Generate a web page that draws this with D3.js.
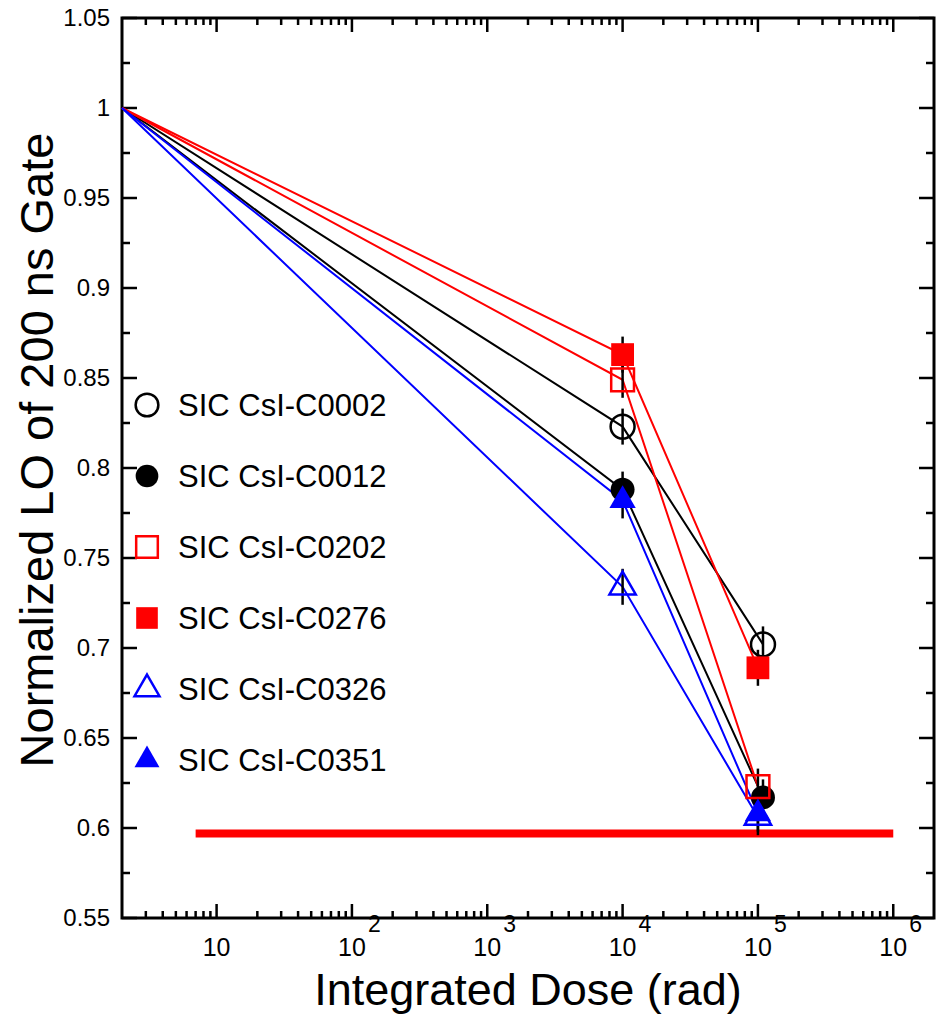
<!DOCTYPE html>
<html>
<head>
<meta charset="utf-8">
<script src="https://cdn.jsdelivr.net/npm/d3@7"></script>
<style>
  body { margin: 0; background: #fff; }
  text { font-family: "Liberation Sans", Arial, sans-serif; fill: #000; }
</style>
</head>
<body>
<div id="container"></div>
<script>
// crystal names, in legend order
var names = ["SIC CsI-C0002", "SIC CsI-C0012", "SIC CsI-C0202", "SIC CsI-C0276", "SIC CsI-C0326", "SIC CsI-C0351"];

// integrated dose (rad) per crystal
var doseC0002 = [2, 1.0e4, 1.09e5];
var doseC0012 = [2, 1.0e4, 1.09e5];
var doseC0202 = [2, 1.0e4, 1.0e5];
var doseC0276 = [2, 1.0e4, 1.0e5];
var doseC0326 = [2, 1.0e4, 1.0e5];
var doseC0351 = [2, 1.0e4, 1.0e5];

// normalized LO of 200 ns gate per crystal
var loC0002 = [1, 0.823, 0.702];
var loC0012 = [1, 0.788, 0.617];
var loC0202 = [1, 0.849, 0.623];
var loC0276 = [1, 0.863, 0.689];
var loC0326 = [1, 0.734, 0.606];
var loC0351 = [1, 0.782, 0.608];

// error bars
var errC0002 = [0, 0.01, 0.01];
var errC0012 = [0, 0.01, 0.01];
var errC0202 = [0, 0.01, 0.01];
var errC0276 = [0, 0.01, 0.01];
var errC0326 = [0, 0.01, 0.01];
var errC0351 = [0, 0.01, 0.01];

// specification limit line
var limitDose = [7, 1e6];
var limitLO = 0.597;

// axis ticks
var yMajor = [0.55, 0.6, 0.65, 0.7, 0.75, 0.8, 0.85, 0.9, 0.95, 1.0, 1.05];
var yMinor = [0.575, 0.625, 0.675, 0.725, 0.775, 0.825, 0.875, 0.925, 0.975, 1.025];
var xMajor = [10, 1e2, 1e3, 1e4, 1e5, 1e6];
var xExp = ["", "2", "3", "4", "5", "6"];

var doses = [doseC0002, doseC0012, doseC0202, doseC0276, doseC0326, doseC0351];
var los = [loC0002, loC0012, loC0202, loC0276, loC0326, loC0351];
var errs = [errC0002, errC0012, errC0202, errC0276, errC0326, errC0351];

// styling for each series
var styles = [
    { color: "#000000", shape: d3.symbolCircle, size: 450, filled: false },
    { color: "#000000", shape: d3.symbolCircle, size: 450, filled: true },
    { color: "#ff0000", shape: d3.symbolSquare, size: 520, filled: false },
    { color: "#ff0000", shape: d3.symbolSquare, size: 520, filled: true },
    { color: "#0000ff", shape: d3.symbolTriangle, size: 300, filled: false },
    { color: "#0000ff", shape: d3.symbolTriangle, size: 300, filled: true }
];

var W = 942, H = 1015;
var mLeft = 122, mRight = 934, mTop = 18, mBottom = 918;

var svg = d3.select("#container").append("svg")
    .attr("width", W)
    .attr("height", H);

var x = d3.scaleLog().domain([2, 2e6]).range([mLeft, mRight]);
var y = d3.scaleLinear().domain([0.55, 1.05]).range([mBottom, mTop]);

// minor x ticks 2..9 of each decade, inside the frame
var xMinor = [];
for (var e = 0; e <= 6; e++)
{
    for (var m = 2; m <= 9; m++)
    {
        var v = m * Math.pow(10, e);
        if (v > 2 && v < 2e6) xMinor.push(v);
    }
}

// y tick labels (ticks drawn separately)
svg.append("g").attr("transform", "translate(" + mLeft + ",0)")
    .call(d3.axisLeft(y).tickValues(yMajor).tickSize(0).tickPadding(12)
        .tickFormat(function (d) { return String(+d.toFixed(2)); }))
    .call(function (g) { g.select(".domain").remove(); })
    .selectAll("text").style("font-size", "24px");

// inward tick marks on all four sides
var ticks = svg.append("g").attr("stroke", "#000").attr("stroke-width", 2.5);

function yTicks(vals, len)
{
    ticks.selectAll(null).data(vals).enter().append("line")
        .attr("x1", mLeft).attr("x2", mLeft + len)
        .attr("y1", function (d) { return y(d); })
        .attr("y2", function (d) { return y(d); });
    ticks.selectAll(null).data(vals).enter().append("line")
        .attr("x1", mRight).attr("x2", mRight - len)
        .attr("y1", function (d) { return y(d); })
        .attr("y2", function (d) { return y(d); });
}
function xTicks(vals, len)
{
    ticks.selectAll(null).data(vals).enter().append("line")
        .attr("y1", mBottom).attr("y2", mBottom - len)
        .attr("x1", function (d) { return x(d); })
        .attr("x2", function (d) { return x(d); });
    ticks.selectAll(null).data(vals).enter().append("line")
        .attr("y1", mTop).attr("y2", mTop + len)
        .attr("x1", function (d) { return x(d); })
        .attr("x2", function (d) { return x(d); });
}
yTicks(yMajor, 15);
yTicks(yMinor, 8);
xTicks(xMajor, 14);
xTicks(xMinor, 7);

// x tick labels with superscripts
xMajor.forEach(function (d, i)
{
    svg.append("text")
        .attr("x", x(d))
        .attr("y", 956)
        .attr("text-anchor", "middle")
        .style("font-size", "25px")
        .text("10");
    if (xExp[i] !== "")
    {
        svg.append("text")
            .attr("x", x(d) + 16)
            .attr("y", 932)
            .style("font-size", "23px")
            .text(xExp[i]);
    }
});

// frame
svg.append("rect")
    .attr("x", mLeft).attr("y", mTop)
    .attr("width", mRight - mLeft).attr("height", mBottom - mTop)
    .attr("fill", "none").attr("stroke", "#000").attr("stroke-width", 3);

// axis titles
svg.append("text")
    .attr("x", 528)
    .attr("y", 1005)
    .attr("text-anchor", "middle")
    .style("font-size", "45px")
    .text("Integrated Dose (rad)");

svg.append("text")
    .attr("transform", "translate(53,450) rotate(-90)")
    .attr("text-anchor", "middle")
    .style("font-size", "47px")
    .text("Normalized LO of 200 ns Gate");

// limit line
svg.append("line")
    .attr("x1", x(limitDose[0])).attr("x2", x(limitDose[1]))
    .attr("y1", y(limitLO)).attr("y2", y(limitLO))
    .attr("stroke", "#ff0000").attr("stroke-width", 8);

var line = d3.line()
    .x(function (d) { return x(d[0]); })
    .y(function (d) { return y(d[1]); });

// series lines
names.forEach(function (name, i)
{
    var pts = doses[i].map(function (d, j) { return [d, los[i][j]]; });
    svg.append("path")
        .datum(pts)
        .attr("d", line)
        .attr("fill", "none")
        .attr("stroke", styles[i].color)
        .attr("stroke-width", 2);
});

// error bars
names.forEach(function (name, i)
{
    doses[i].forEach(function (d, j)
    {
        if (errs[i][j] <= 0) return;
        svg.append("line")
            .attr("x1", x(d)).attr("x2", x(d))
            .attr("y1", y(los[i][j] - errs[i][j]))
            .attr("y2", y(los[i][j] + errs[i][j]))
            .attr("stroke", "#000").attr("stroke-width", 2.5);
    });
});

// markers (skip the normalization point)
names.forEach(function (name, i)
{
    var s = styles[i];
    var sym = d3.symbol().type(s.shape).size(s.size);
    doses[i].forEach(function (d, j)
    {
        if (j === 0) return;
        svg.append("path")
            .attr("d", sym)
            .attr("transform", "translate(" + x(d) + "," + y(los[i][j]) + ")")
            .attr("fill", s.filled ? s.color : "none")
            .attr("stroke", s.color)
            .attr("stroke-width", s.filled ? 0 : 2.5);
    });
});

// legend
var legend = svg.append("g");
names.forEach(function (name, i)
{
    var s = styles[i];
    var ly = 405 + i * 71;
    legend.append("path")
        .attr("d", d3.symbol().type(s.shape).size(s.size * 0.9))
        .attr("transform", "translate(147," + ly + ")")
        .attr("fill", s.filled ? s.color : "#fff")
        .attr("stroke", s.color)
        .attr("stroke-width", s.filled ? 0 : 2.5);
    legend.append("text")
        .attr("x", 178)
        .attr("y", ly + 11)
        .style("font-size", "31px")
        .text(name);
});
</script>
</body>
</html>
